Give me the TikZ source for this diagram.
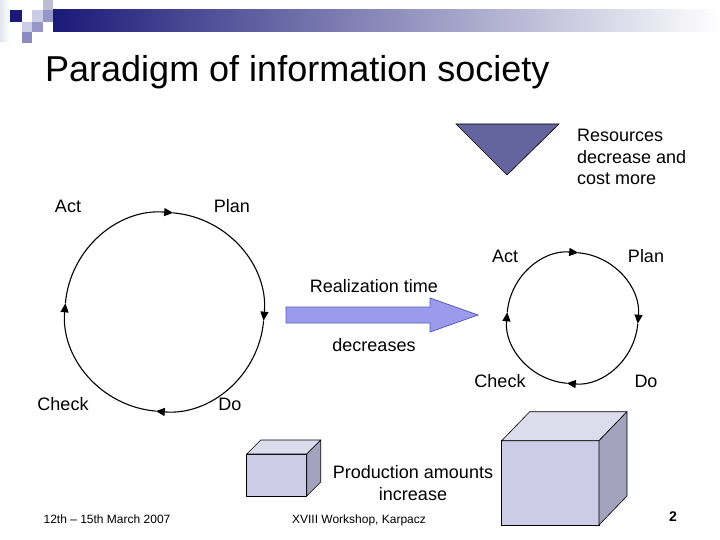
\documentclass[tikz,border=0pt]{standalone}
\usepackage{fontspec}
\setmainfont{Liberation Sans}
\usetikzlibrary{arrows.meta}
\definecolor{navy}{RGB}{26,26,120}
\definecolor{lightlav}{RGB}{204,204,230}
\definecolor{midlav}{RGB}{150,150,200}
\definecolor{palelav}{RGB}{228,228,240}
\definecolor{arrowfill}{RGB}{155,155,238}
\definecolor{arrowdraw}{RGB}{90,90,180}
\definecolor{trifill}{RGB}{100,100,158}
\definecolor{cubefront}{RGB}{204,204,230}
\definecolor{cubetop}{RGB}{220,220,236}
\definecolor{cubeside}{RGB}{163,163,190}
\begin{document}
\begin{tikzpicture}[x=1pt,y=-1pt,
  lbl/.style={font=\fontsize{18}{21.6}\selectfont, inner sep=0pt, anchor=base},
  foot/.style={font=\fontsize{12}{14}\selectfont, inner sep=0pt, anchor=base},
  cyc/.style={line width=1.1pt, -{Triangle[length=9pt,width=8pt]}},
  cube/.style={draw=black, line width=0.6pt, line join=round}]
\useasboundingbox (0,0) rectangle (720,540);
% header decoration
\shade[left color=palelav, right color=white] (0,0) rectangle (10,42);
\shade[left color=navy, right color=white] (53,10) rectangle (720,32);
\fill[navy] (10,10) rectangle (21.7,21.7);
\fill[lightlav] (31.7,10) rectangle (43.3,21.7);
\fill[lightlav!80!gray] (43.3,0) rectangle (53.3,10);
\fill[midlav] (43.3,10) rectangle (53.3,21.7);
\fill[lightlav] (21.7,21.7) rectangle (31.7,31.7);
\fill[midlav] (31.7,21.7) rectangle (43.3,31.7);
\fill[midlav!90!navy] (21.7,31.7) rectangle (31.7,43.3);
% title
\node[font=\fontsize{36}{40}\selectfont, inner sep=0pt, anchor=base west] (title) at (45,82) {Paradigm of information society};
% resources triangle
\draw[fill=trifill, line width=0.6pt] (456,124) -- (559,124) -- (507,175) -- cycle;
\node[font=\fontsize{18}{21.6}\selectfont, inner sep=0pt, anchor=north west, align=left] (res) at (577,129) {Resources\\decrease and\\cost more};
% left cycle
\coordinate (cL) at (164.5,312);
\draw[cyc] (cL) ++(185:99.5) arc[start angle=185, end angle=275, radius=99.5];
\draw[cyc] (cL) ++(275:99.5) arc[start angle=275, end angle=365, radius=99.5];
\draw[cyc] (cL) ++(5:99.5) arc[start angle=5, end angle=95, radius=99.5];
\draw[cyc] (cL) ++(95:99.5) arc[start angle=95, end angle=185, radius=99.5];
\node[lbl] (actL) at (68,212) {Act};
\node[lbl] (planL) at (232,212) {Plan};
\node[lbl] (checkL) at (63,410) {Check};
\node[lbl] (doL) at (230,410) {Do};
% right cycle
\coordinate (cR) at (572.5,318);
\draw[cyc] (cR) ++(185:65.5) arc[start angle=185, end angle=275, radius=65.5];
\draw[cyc] (cR) ++(275:65.5) arc[start angle=275, end angle=365, radius=65.5];
\draw[cyc] (cR) ++(5:65.5) arc[start angle=5, end angle=95, radius=65.5];
\draw[cyc] (cR) ++(95:65.5) arc[start angle=95, end angle=185, radius=65.5];
\node[lbl] (actR) at (505,262) {Act};
\node[lbl] (planR) at (646,262) {Plan};
\node[lbl] (checkR) at (500,387) {Check};
\node[lbl] (doR) at (646,387) {Do};
% block arrow
\draw[fill=arrowfill, draw=arrowdraw, line width=0.8pt, line join=miter]
  (286,307) -- (430,307) -- (430,298) -- (478,315) -- (430,332) -- (430,323) -- (286,323) -- cycle;
\node[lbl] (real) at (374,292.5) {Realization time};
\node[lbl] (decr) at (374,351.5) {decreases};
% small cube
\filldraw[cube, fill=cubefront] (246.7,454) rectangle (306.7,496);
\filldraw[cube, fill=cubetop] (246.7,454) -- (260.7,440) -- (320.7,440) -- (306.7,454) -- cycle;
\filldraw[cube, fill=cubeside] (306.7,454) -- (320.7,440) -- (320.7,482) -- (306.7,496) -- cycle;
% large cube
\filldraw[cube, fill=cubefront] (501.7,440.7) rectangle (599,525);
\filldraw[cube, fill=cubetop] (501.7,440.7) -- (529.7,411.7) -- (627,411.7) -- (599,440.7) -- cycle;
\filldraw[cube, fill=cubeside] (599,440.7) -- (627,411.7) -- (627,496) -- (599,525) -- cycle;
\node[font=\fontsize{18}{22}\selectfont, inner sep=0pt, anchor=north, align=center] (prod) at (413,465.3) {Production amounts\\increase};
% footer
\node[foot] (date) at (107,523) {12th -- 15th March 2007};
\node[foot] (work) at (359,523) {XVIII Workshop, Karpacz};
\node[foot, font=\fontsize{14}{16}\selectfont\bfseries] (page) at (673,521) {2};
\end{tikzpicture}
\end{document}
